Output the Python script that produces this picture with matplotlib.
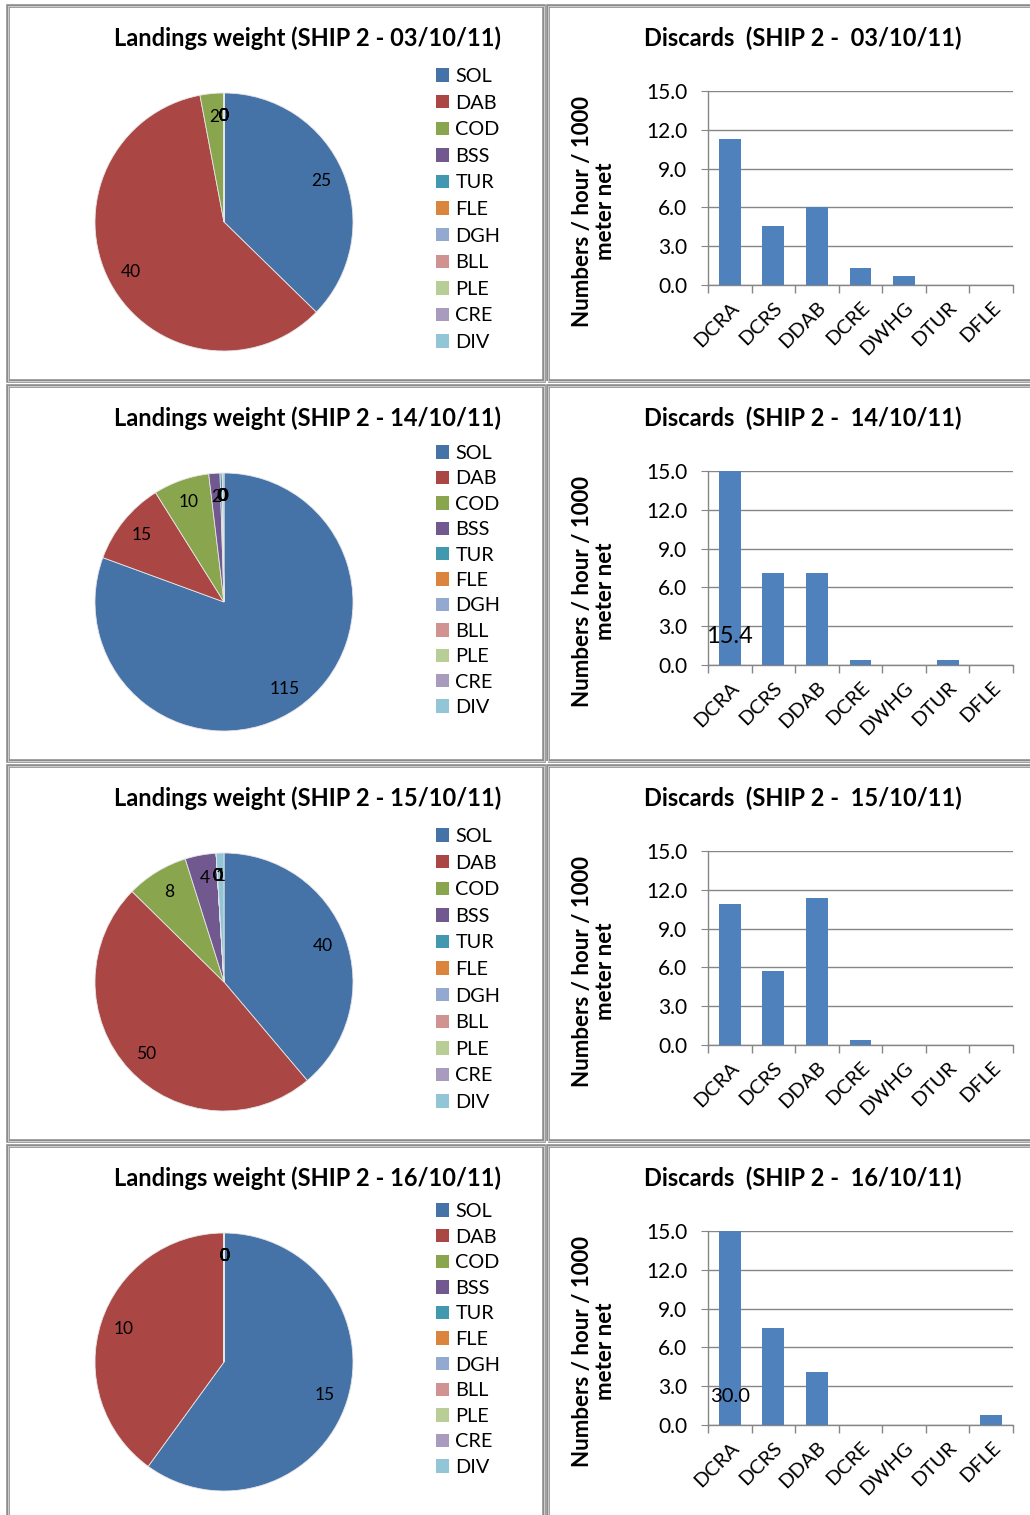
import matplotlib
matplotlib.use("Agg")
import matplotlib.pyplot as plt
from matplotlib.patches import Rectangle

plt.rcParams['font.family'] = ['Lato', 'DejaVu Sans']

W, H = 1030, 1515

species = ["SOL", "DAB", "COD", "BSS", "TUR", "FLE", "DGH", "BLL", "PLE", "CRE", "DIV"]
pie_colors = ["#4572A7", "#AA4643", "#89A54E", "#71588F", "#4198AF", "#DB843D",
              "#93A9CF", "#D19392", "#B9CD96", "#A99BBD", "#92C5D6"]

dates = ["03/10/11", "14/10/11", "15/10/11", "16/10/11"]

land_0310 = [25, 40, 2, 0, 0, 0, 0, 0, 0, 0, 0]
land_1410 = [115, 15, 10, 2, 0.4, 0, 0, 0, 0, 0, 0.3]
land_1510 = [40, 50, 8, 4, 0, 0, 0, 0, 0, 0, 1]
land_1610 = [15, 10, 0, 0, 0, 0, 0, 0, 0, 0, 0]
landings = [land_0310, land_1410, land_1510, land_1610]

disc_cats = ["DCRA", "DCRS", "DDAB", "DCRE", "DWHG", "DTUR", "DFLE"]
disc_0310 = [11.3, 4.6, 6.0, 1.3, 0.7, 0.0, 0.0]
disc_1410 = [15.4, 7.1, 7.1, 0.4, 0.0, 0.4, 0.0]
disc_1510 = [10.9, 5.7, 11.4, 0.4, 0.0, 0.0, 0.0]
disc_1610 = [30.0, 7.5, 4.1, 0.0, 0.0, 0.0, 0.8]
discards = [disc_0310, disc_1410, disc_1510, disc_1610]

yticks = [0, 3, 6, 9, 12, 15]
ymax = 15.0

fig = plt.figure(figsize=(W / 100, H / 100), dpi=100)


def fx(px):
    return px / W


def fy(py):
    return 1 - py / H


GRAY = "#868686"
row_off = 380
legend_tops = [68, 445, 828, 1203]
legend_spacing = [27, 25.8, 27, 26]

for i in range(4):
    oy = row_off * i
    # panel borders
    for (x0, x1) in [(8, 544), (548, 1040)]:
        y0, y1 = 6 + oy, 381 + oy
        fig.add_artist(Rectangle((fx(x0), fy(y1)), fx(x1) - fx(x0), fy(y0) - fy(y1),
                                 transform=fig.transFigure, fill=False,
                                 edgecolor="#8c8c8c", linewidth=2.6))
        fig.add_artist(Rectangle((fx(x0), fy(y1)), fx(x1) - fx(x0), fy(y0) - fy(y1),
                                 transform=fig.transFigure, fill=False,
                                 edgecolor="#d8d8d8", linewidth=0.6))

    # ---- pie ----
    cx, cy, r = 224, 222 + oy, 129
    half = 140
    axp = fig.add_axes([fx(cx - half), fy(cy + half), 2 * half / W, 2 * half / H])
    vals = landings[i]
    tot = sum(vals)
    wedges, texts, autotexts = axp.pie(
        vals, colors=pie_colors, startangle=90, counterclock=False,
        autopct=lambda p, t=tot: f"{p * t / 100:.0f}", pctdistance=0.82,
        wedgeprops=dict(edgecolor="#e6e6e6", linewidth=0.6),
        textprops=dict(fontsize=12.5, color="black"))
    lim = half / r
    axp.set_xlim(-lim, lim)
    axp.set_ylim(-lim, lim)
    axp.set_aspect("equal")
    axp.axis("off")

    fig.text(fx(308), fy(38 + oy), f"Landings weight (SHIP 2 - {dates[i]})",
             ha="center", va="center", fontsize=17, fontweight="bold")

    fs = 14.3
    fspx = fs * 100 / 72
    leg = fig.legend(wedges, species, loc="upper left",
                     bbox_to_anchor=(fx(436), fy(legend_tops[i])),
                     frameon=False, fontsize=fs, handlelength=0.66, handleheight=0.66,
                     handletextpad=0.32, borderpad=0, borderaxespad=0,
                     labelspacing=(legend_spacing[i] - 17.4) / fspx)
    for h in leg.legend_handles:
        h.set_edgecolor("none")

    # ---- bar ----
    top, bot = 91 + oy, 285 + oy
    left, right = 708, 1013
    axb = fig.add_axes([fx(left), fy(bot), (right - left) / W, (bot - top) / H])
    xs = list(range(len(disc_cats)))
    d = discards[i]
    axb.bar(xs, d, width=0.5, color="#4F81BD", zorder=3)
    axb.set_xlim(-0.5, len(disc_cats) - 0.5)
    axb.set_ylim(0, ymax)
    axb.set_yticks(yticks)
    axb.set_yticklabels([f"{v:.1f}" for v in yticks])
    axb.yaxis.grid(True, color=GRAY, linewidth=1.0, zorder=0)
    axb.set_axisbelow(True)
    for s in ["top", "right"]:
        axb.spines[s].set_visible(False)
    for s in ["left", "bottom"]:
        axb.spines[s].set_color(GRAY)
        axb.spines[s].set_linewidth(1.0)
    axb.tick_params(axis="y", length=5, color=GRAY, labelsize=15, pad=10)
    axb.set_xticks(xs)
    axb.set_xticklabels(disc_cats, rotation=45, ha="right", rotation_mode="anchor",
                        fontsize=14.5)
    axb.set_xticks([x - 0.5 for x in range(len(disc_cats) + 1)], minor=True)
    axb.tick_params(axis="x", which="major", length=0, pad=10)
    axb.tick_params(axis="x", which="minor", length=6, color=GRAY, width=1.0)
    axb.set_ylabel("Numbers / hour / 1000\nmeter net", fontsize=16,
                   fontweight="bold", linespacing=1.15)
    axb.yaxis.set_label_coords(-0.30, 0.38)
    for xv, v in zip(xs, d):
        if v > ymax:
            axb.text(xv, 2.2, f"{v:.1f}", ha="center", va="center",
                     fontsize=17 if i == 1 else 14.5, zorder=4)

    fig.text(fx(803), fy(38 + oy), f"Discards  (SHIP 2 -  {dates[i]})",
             ha="center", va="center", fontsize=17, fontweight="bold")

fig.savefig("out.png", dpi=100)
